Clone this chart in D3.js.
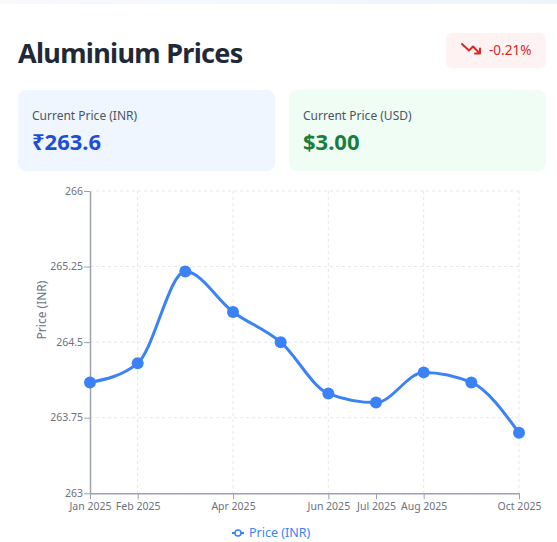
<!DOCTYPE html>
<html><head><meta charset="utf-8">
<script src="https://cdn.jsdelivr.net/npm/d3@7/dist/d3.min.js"></script>
<style>
html,body{margin:0;padding:0;background:#fff;}
svg{display:block;font-family:"Noto Sans","Open Sans",sans-serif;}
</style></head><body>
<svg id="c" width="557" height="542"></svg>
<script>
const months = ["Jan 2025","Feb 2025","Mar 2025","Apr 2025","May 2025","Jun 2025","Jul 2025","Aug 2025","Sep 2025","Oct 2025"];
const prices = [264.10, 264.29, 265.20, 264.80, 264.50, 263.99, 263.90, 264.20, 264.10, 263.60];
const yTicks = [263, 263.75, 264.5, 265.25, 266];
const xTickLabels = ["Jan 2025","Feb 2025","Apr 2025","Jun 2025","Jul 2025","Aug 2025","Oct 2025"];
const xGridLabels = ["Feb 2025","Apr 2025","Jun 2025","Aug 2025","Oct 2025"];
const title = "Aluminium Prices";
const changePct = "-0.21%";
const cards = [
  {label:"Current Price (INR)", value:"₹263.6"},
  {label:"Current Price (USD)", value:"$3.00"}
];

const svg = d3.select("#c");
const defs = svg.append("defs");
const g1 = defs.append("linearGradient").attr("id","strip");
g1.append("stop").attr("offset","0").attr("stop-color","#f7f9fb");
g1.append("stop").attr("offset","1").attr("stop-color","#eff4fb");
svg.append("rect").attr("x",0).attr("y",0).attr("width",557).attr("height",4).attr("fill","url(#strip)");

svg.append("text").attr("x",18).attr("y",63).attr("font-size",27).attr("font-weight",700)
  .attr("letter-spacing",-0.7).attr("fill","#1f2937").text(title);

// badge
svg.append("rect").attr("x",446).attr("y",33).attr("width",100).attr("height",35).attr("rx",6).attr("fill","#fef2f2");
svg.append("path").attr("d","M462 44 L469 50.5 L473 46.5 L480 53.5 M480 48.5 L480 53.5 L475 53.5")
  .attr("fill","none").attr("stroke","#dc2626").attr("stroke-width",2).attr("stroke-linecap","round").attr("stroke-linejoin","round");
svg.append("text").attr("x",489).attr("y",55).attr("font-size",13.5).attr("fill","#dc2626").text(changePct);

// cards
const cardX = [18, 289];
const cardFill = ["#eff6ff","#f0fdf4"];
const cardColor = ["#1d4ed8","#15803d"];
cards.forEach((c,i)=>{
  svg.append("rect").attr("x",cardX[i]).attr("y",90).attr("width",257).attr("height",81).attr("rx",8).attr("fill",cardFill[i]);
  svg.append("text").attr("x",cardX[i]+14).attr("y",120).attr("font-size",12).attr("fill","#4b5563").text(c.label);
  svg.append("text").attr("x",cardX[i]+14).attr("y",150).attr("font-size",22).attr("font-weight",700).attr("fill",cardColor[i]).text(c.value);
});

// chart
const x = d3.scalePoint().domain(months).range([90,519]);
const y = d3.scaleLinear().domain([263,266]).range([493.3,191]);
const grid = svg.append("g");
yTicks.forEach(t=>{
  grid.append("line").attr("x1",90).attr("x2",519).attr("y1",y(t)).attr("y2",y(t))
   .attr("stroke","#e5e7eb").attr("stroke-dasharray","3 3");
});
xGridLabels.forEach(m=>{
  grid.append("line").attr("x1",x(m)).attr("x2",x(m)).attr("y1",191).attr("y2",493.3)
   .attr("stroke","#e5e7eb").attr("stroke-dasharray","3 3");
});

const yAxis = d3.axisLeft(y).tickValues(yTicks).tickSize(6).tickSizeOuter(0).tickFormat(d=>String(d));
const ya = svg.append("g").attr("transform","translate(90,0)").call(yAxis);
const xAxis = d3.axisBottom(x).tickValues(xTickLabels).tickSize(6).tickSizeOuter(0);
const xa = svg.append("g").attr("transform","translate(0,493.3)").call(xAxis);
[ya,xa].forEach(a=>{
  a.select(".domain").attr("stroke","#9ca3af").attr("stroke-width",1.5);
  a.selectAll(".tick line").attr("stroke","#9ca3af");
  a.selectAll(".tick text").attr("fill","#6b7280").attr("font-size",10.5).attr("font-family","Noto Sans");
});
ya.selectAll(".tick text").attr("x",-7).attr("dy","0.3em");
xa.selectAll(".tick text").attr("y",9).attr("dy","0.75em");
svg.append("text").attr("transform","translate(42,310) rotate(-90)").attr("text-anchor","middle")
  .attr("dy","0.35em").attr("font-size",12).attr("fill","#6b7280").text("Price (INR)");

const line = d3.line().x((d,i)=>x(months[i])).y(d=>y(d)).curve(d3.curveMonotoneX);
svg.append("path").datum(prices).attr("d",line).attr("fill","none").attr("stroke","#3b82f6").attr("stroke-width",3);
svg.append("g").selectAll("circle").data(prices).join("circle")
  .attr("cx",(d,i)=>x(months[i])).attr("cy",d=>y(d)).attr("r",6).attr("fill","#3b82f6");

// legend
const lg = svg.append("g");
lg.append("line").attr("x1",232).attr("x2",244).attr("y1",533).attr("y2",533).attr("stroke","#3b82f6").attr("stroke-width",2);
lg.append("circle").attr("cx",238).attr("cy",533).attr("r",3).attr("fill","#fff").attr("stroke","#3b82f6").attr("stroke-width",1.5);
lg.append("text").attr("x",249).attr("y",537).attr("font-size",12.5).attr("fill","#3b82f6").text("Price (INR)");
</script></body></html>
